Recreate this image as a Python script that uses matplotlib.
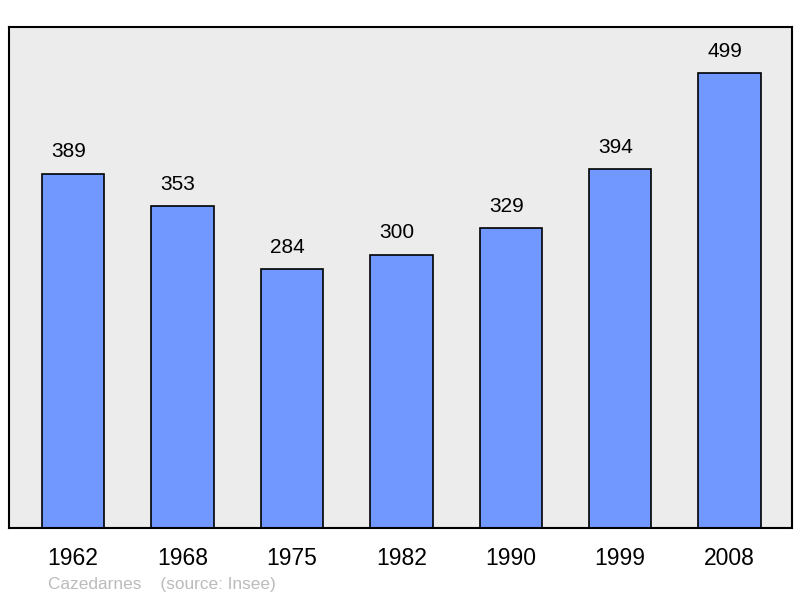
import matplotlib
matplotlib.use("Agg")
import matplotlib.pyplot as plt

years = ["1962", "1968", "1975", "1982", "1990", "1999", "2008"]
population = [389, 353, 284, 300, 329, 394, 499]
town = "Cazedarnes"
source = "(source: Insee)"

plt.rcParams["font.family"] = ["Liberation Sans", "DejaVu Sans"]

fig = plt.figure(figsize=(8, 5.98), dpi=100)
ax = fig.add_axes([9 / 800, 70 / 598, 783 / 800, 501 / 598])
ax.set_facecolor("#ececec")

x = range(len(years))
ax.bar(x, population, width=0.57, color="#7098ff", edgecolor="black", linewidth=1.2, zorder=2)
# value labels sit a bit left of the bar centre, like the original
for xi, v in zip(x, population):
    ax.annotate(str(v), (xi, v), xytext=(-3.3, 9), textcoords="offset points",
                ha="center", va="bottom", fontsize=15)

ax.set_xlim(-0.585, 6.57)
ax.set_ylim(0, 550)
ax.set_yticks([])
ax.set_xticks(list(x))
ax.set_xticklabels(years, fontsize=16.5)
ax.tick_params(axis="x", length=0, pad=14)
for s in ax.spines.values():
    s.set_linewidth(1.5)

fig.text(48 / 800, 1 - 584 / 598, town + "    " + source, color="#bbbbbb",
         fontsize=12.4, ha="left", va="center")

fig.savefig("out.png", dpi=100)
